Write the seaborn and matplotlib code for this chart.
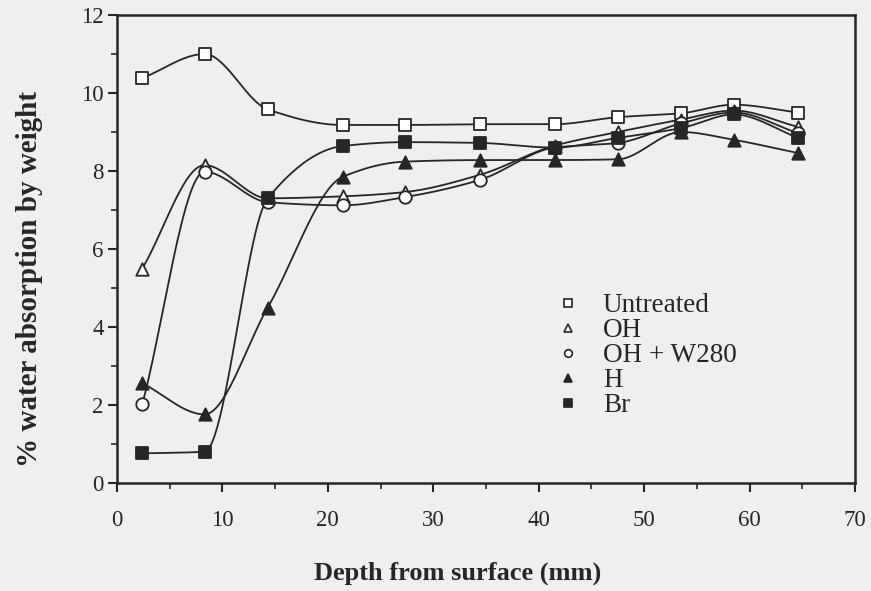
import numpy as np
import pandas as pd
import matplotlib
matplotlib.use("Agg")
import matplotlib.pyplot as plt
from matplotlib.lines import Line2D
from matplotlib.ticker import MultipleLocator
import seaborn as sns

# Depth of each sampled slice (mm)
depth = [2.4, 8.3, 14.3, 21.4, 27.3, 34.4, 41.5, 47.5, 53.5, 58.5, 64.6]

# % water absorption by weight for each treatment
untreated = [10.38, 11.0, 9.58, 9.18, 9.18, 9.2, 9.2, 9.38, 9.48, 9.7, 9.5]
oh        = [5.5, 8.15, 7.3, 7.35, 7.46, 7.9, 8.65, 9.0, 9.32, 9.55, 9.13]
oh_w280   = [2.02, 7.98, 7.2, 7.12, 7.33, 7.77, 8.6, 8.72, 9.22, 9.5, 8.97]
h         = [2.56, 1.76, 4.5, 7.85, 8.24, 8.28, 8.28, 8.3, 9.0, 8.8, 8.46]
br        = [0.76, 0.8, 7.3, 8.64, 8.74, 8.72, 8.6, 8.85, 9.1, 9.45, 8.85]

labels = ["Untreated", "OH", "OH + W280", "H", "Br"]
series = [untreated, oh, oh_w280, h, br]
markers = ["s", "^", "o", "^", "s"]
filled = [False, False, False, True, True]

x_ticks = [0, 10, 20, 30, 40, 50, 60, 70]
y_ticks = [0, 2, 4, 6, 8, 10, 12]

INK = "#262626"
BG = "#efefef"


def pchip(x, y, n=30):
    """Shape-preserving cubic (Fritsch-Carlson) curve through the points."""
    x = np.asarray(x, float)
    y = np.asarray(y, float)
    h_ = np.diff(x)
    d = np.diff(y) / h_
    m = np.zeros_like(y)
    for k in range(1, len(x) - 1):
        if d[k - 1] * d[k] > 0:
            w1 = 2 * h_[k] + h_[k - 1]
            w2 = h_[k] + 2 * h_[k - 1]
            m[k] = (w1 + w2) / (w1 / d[k - 1] + w2 / d[k])
    m[0] = d[0]
    m[-1] = d[-1]
    xs, ys = [], []
    for k in range(len(x) - 1):
        t = np.linspace(0, 1, n, endpoint=(k == len(x) - 2))
        h00 = 2 * t**3 - 3 * t**2 + 1
        h10 = t**3 - 2 * t**2 + t
        h01 = -2 * t**3 + 3 * t**2
        h11 = t**3 - t**2
        xs.append(x[k] + t * h_[k])
        ys.append(h00 * y[k] + h10 * h_[k] * m[k] + h01 * y[k + 1] + h11 * h_[k] * m[k + 1])
    return np.concatenate(xs), np.concatenate(ys)


sns.set_theme(style="ticks")
plt.rcParams["font.family"] = ["Liberation Serif", "DejaVu Serif"]
plt.rcParams["axes.linewidth"] = 1.8

fig = plt.figure(figsize=(8.71, 5.91), dpi=100, facecolor=BG)
ax = fig.add_axes([117 / 871, 1 - 483 / 591, (855 - 117) / 871, (483 - 15) / 591])
ax.set_facecolor(BG)

points = pd.concat(
    [pd.DataFrame({"depth": depth, "absorption": vals, "treatment": lab})
     for lab, vals in zip(labels, series)],
    ignore_index=True,
)

# smooth connecting curves
for lab, vals in zip(labels, series):
    cx, cy = pchip(depth, vals)
    sns.lineplot(x=cx, y=cy, sort=False, estimator=None, color=INK,
                 linewidth=1.3, ax=ax, zorder=2)

# data markers
for lab, mk, fill in zip(labels, markers, filled):
    sub = points[points["treatment"] == lab]
    sns.scatterplot(data=sub, x="depth", y="absorption", marker=mk, s=80,
                    facecolor=INK if fill else "white", edgecolor=INK,
                    linewidth=1.3, ax=ax, zorder=3, legend=False)

ax.set_xlim(0, 70)
ax.set_ylim(0, 12)
ax.set_xticks(x_ticks)
ax.set_yticks(y_ticks)
ax.xaxis.set_minor_locator(MultipleLocator(5))
ax.yaxis.set_minor_locator(MultipleLocator(1))
ax.tick_params(which="major", direction="out", length=6.5, width=1.5,
               color=INK, labelsize=16.5, labelcolor=INK)
ax.tick_params(axis="x", which="major", pad=13)
ax.tick_params(axis="y", which="major", pad=3)
ax.tick_params(which="minor", direction="out", length=4, width=1.2, color=INK)
for sp in ax.spines.values():
    sp.set_visible(True)
    sp.set_color(INK)

ax.set_xlabel("Depth from surface (mm)", fontsize=19, fontweight="bold",
              color=INK, va="center")
ax.set_ylabel("% water absorption by weight", fontsize=21, fontweight="bold",
              color=INK, va="center")
ax.xaxis.set_label_coords(0.462, -0.192)
ax.yaxis.set_label_coords(-0.118, 0.436)

handles = [
    Line2D([], [], linestyle="none", marker=mk, markersize=5.5,
           markerfacecolor=INK if fill else "white", markeredgecolor=INK,
           markeredgewidth=1.2)
    for mk, fill in zip(markers, filled)
]
ax.legend(handles, labels, loc="upper left", bbox_to_anchor=(559.5 / 871, 1 - 293 / 591),
          bbox_transform=fig.transFigure, frameon=False, fontsize=19.5,
          handlelength=0.6, handletextpad=1.0, labelspacing=0.0, borderpad=0,
          borderaxespad=0, labelcolor=INK)

fig.savefig("out.png", dpi=100, facecolor=BG)
